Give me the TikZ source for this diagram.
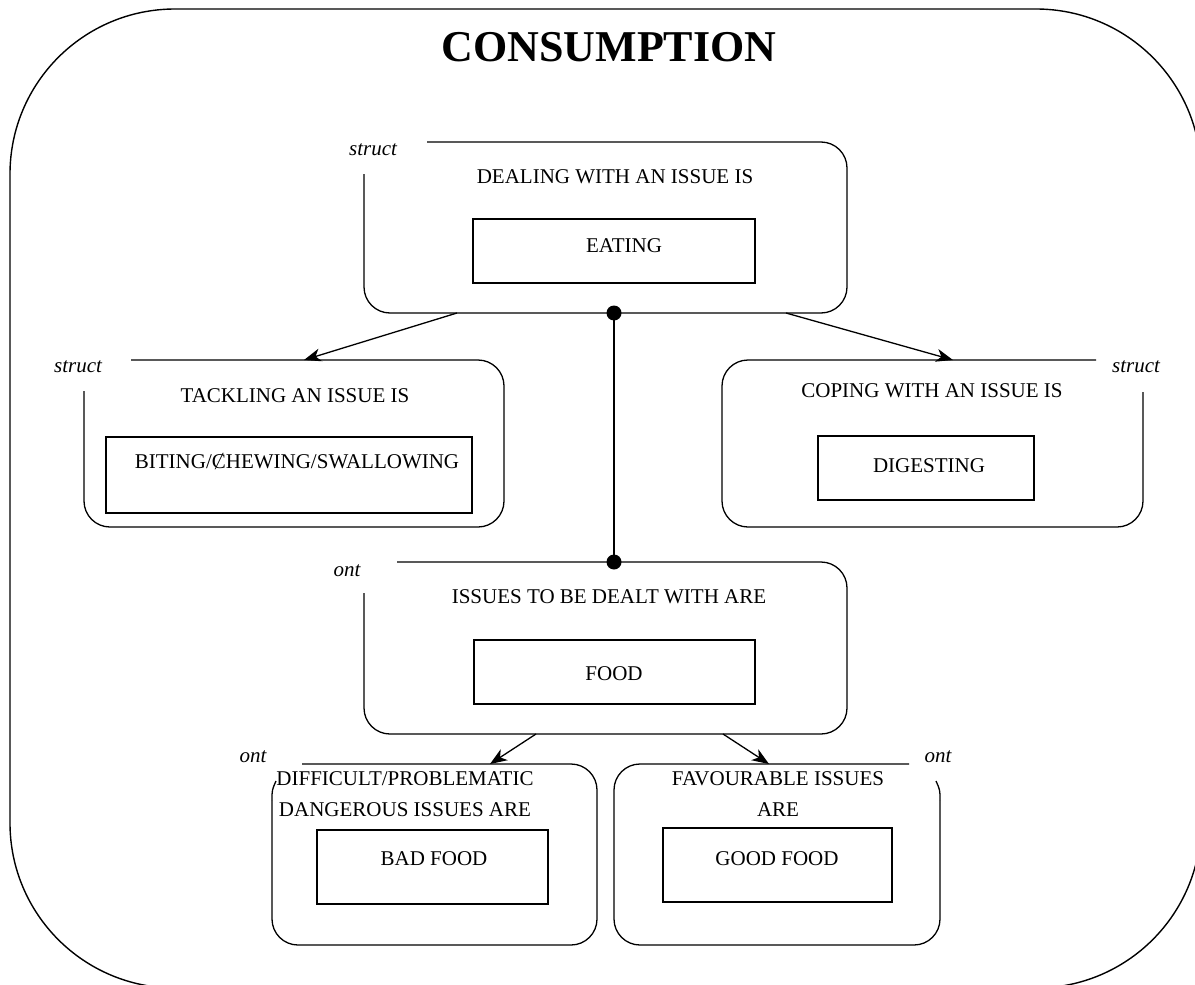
\documentclass[tikz,border=0pt]{standalone}
\usepackage{fontspec}
\setmainfont{Liberation Serif}
\usetikzlibrary{arrows.meta}
\begin{document}
\begin{tikzpicture}[x=1pt,y=-1pt,
  outerframe/.style={line width=1.4pt, rounded corners=165pt},
  card/.style={line width=1.3pt, rounded corners=26pt},
  innerbox/.style={draw, line width=1.3pt, inner sep=0pt},
  txt/.style={font=\fontsize{21}{31}\selectfont, align=center, inner sep=0pt},
  heading/.style={font=\bfseries\fontsize{44}{50}\selectfont, inner sep=0pt},
  tag/.style={font=\itshape\fontsize{21}{25}\selectfont, inner sep=0pt},
  link/.style={line width=1.3pt, -{Stealth[length=17pt,width=13pt,inset=5pt]}},
  joint/.style={circle, fill, inner sep=0pt, minimum size=15pt}
]
\path[use as bounding box] (0,0) rectangle (1195,985);
\begin{scope}
  \clip (0,0) rectangle (1195,985);
  \draw[outerframe] (10,9) rectangle (1201,988);
\end{scope}

\node[heading] (title) at (609,47) {CONSUMPTION};

% dealing with an issue
\draw[card] (427,142) -- (847,142) -- (847,313) -- (364,313) -- (364,174);
\node[tag] (s1) at (373,150) {struct};
\node[txt] (t1) at (615,177) {DEALING WITH AN ISSUE IS};
\node[innerbox, minimum width=282pt, minimum height=64pt] (b1) at (614,251) {};
\node[txt] (e1) at (624,246) {EATING};

% tackling an issue
\draw[card] (131,360) -- (504,360) -- (504,527) -- (84,527) -- (84,391);
\node[tag] (s2) at (78,367) {struct};
\node[txt] (t2) at (295,396) {TACKLING AN ISSUE IS};
\node[innerbox, minimum width=366pt, minimum height=76pt] (b2) at (289,475) {};
\node[txt] (e2) at (297,462) {BITING/ȻHEWING/SWALLOWING};

% coping with an issue
\draw[card] (1096,360) -- (722,360) -- (722,527) -- (1143,527) -- (1143,392);
\node[tag] (s3) at (1136,367) {struct};
\node[txt] (t3) at (932,391) {COPING WITH AN ISSUE IS};
\node[innerbox, minimum width=216pt, minimum height=64pt] (b3) at (926,468) {};
\node[txt] (e3) at (929,466) {DIGESTING};

% issues to be dealt with
\draw[card] (397,562) -- (847,562) -- (847,734) -- (364,734) -- (364,593);
\node[tag] (s4) at (347,571) {ont};
\node[txt] (t4) at (609,597) {ISSUES TO BE DEALT WITH ARE};
\node[innerbox, minimum width=281pt, minimum height=64pt] (b4) at (614.5,672) {};
\node[txt] (e4) at (614,674) {FOOD};

% difficult issues
\draw[card] (302,764) -- (597,764) -- (597,945) -- (272,945) -- (272,800);
\draw[line width=1.3pt] (272,800) .. controls (272,790) .. (276,781);
\node[tag] (s5) at (253,757) {ont};
\node[txt] (t5) at (405,794) {DIFFICULT/PROBLEMATIC\\DANGEROUS ISSUES ARE};
\node[innerbox, minimum width=231pt, minimum height=74pt] (b5) at (432.5,867) {};
\node[txt] (e5) at (434,859) {BAD FOOD};

% favourable issues
\draw[card] (909,764) -- (614,764) -- (614,945) -- (940,945) -- (940,800);
\draw[line width=1.3pt] (940,800) .. controls (940,790) .. (936,781);
\node[tag] (s6) at (938,757) {ont};
\node[txt] (t6) at (778,794) {FAVOURABLE ISSUES\\ARE};
\node[innerbox, minimum width=229pt, minimum height=74pt] (b6) at (777.5,865) {};
\node[txt] (e6) at (777,859) {GOOD FOOD};

% connectors
\node[joint] (j1) at (614,313) {};
\node[joint] (j2) at (614,562) {};
\draw[line width=1.3pt] (j1.center) -- (j2.center);

\coordinate (l1) at (457,313);
\coordinate (l1e) at (304,360);
\coordinate (r1) at (786,313);
\coordinate (r1e) at (953,360);
\coordinate (l2) at (536,734);
\coordinate (l2e) at (490,764);
\coordinate (r2) at (723,734);
\coordinate (r2e) at (769,764);
\draw[link] (l1) -- (l1e);
\draw[link] (r1) -- (r1e);
\draw[link] (l2) -- (l2e);
\draw[link] (r2) -- (r2e);
\end{tikzpicture}
\end{document}
